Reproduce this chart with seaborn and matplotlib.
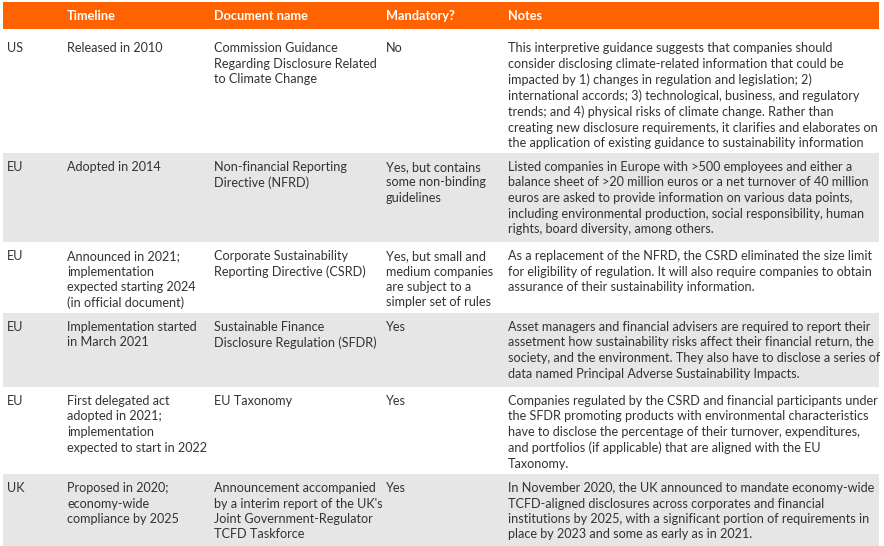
import matplotlib
matplotlib.use("Agg")
import matplotlib.pyplot as plt
import seaborn as sns

# ---- data ----
headers = ["", "Timeline", "Document name", "Mandatory?", "Notes"]
countries = ["US", "EU", "EU", "EU", "EU", "UK"]
timelines = [
    "Released in 2010",
    "Adopted in 2014",
    "Announced in 2021;\nimplementation\nexpected starting 2024\n(in official document)",
    "Implementation started\nin March 2021",
    "First delegated act\nadopted in 2021;\nimplementation\nexpected to start in 2022",
    "Proposed in 2020;\neconomy-wide\ncompliance by 2025",
]
documents = [
    "Commission Guidance\nRegarding Disclosure Related\nto Climate Change",
    "Non-financial Reporting\nDirective (NFRD)",
    "Corporate Sustainability\nReporting Directive (CSRD)",
    "Sustainable Finance\nDisclosure Regulation (SFDR)",
    "EU Taxonomy",
    "Announcement accompanied\nby a interim report of the UK's\nJoint Government-Regulator\nTCFD Taskforce",
]
mandatory = [
    "No",
    "Yes, but contains\nsome non-binding\nguidelines",
    "Yes, but small and\nmedium companies\nare subject to a\nsimpler set of rules",
    "Yes",
    "Yes",
    "Yes",
]
notes = [
    "This interpretive guidance suggests that companies should\n"
    "consider disclosing climate-related information that could be\n"
    "impacted by 1) changes in regulation and legislation; 2)\n"
    "international accords; 3) technological, business, and regulatory\n"
    "trends; and 4) physical risks of climate change. Rather than\n"
    "creating new disclosure requirements, it clarifies and elaborates on\n"
    "the application of existing guidance to sustainability information",
    "Listed companies in Europe with >500 employees and either a\n"
    "balance sheet of >20 million euros or a net turnover of 40 million\n"
    "euros are asked to provide information on various data points,\n"
    "including environmental production, social responsibility, human\n"
    "rights, board diversity, among others.",
    "As a replacement of the NFRD, the CSRD eliminated the size limit\n"
    "for eligibility of regulation. It will also require companies to obtain\n"
    "assurance of their sustainability information.",
    "Asset managers and financial advisers are required to report their\n"
    "assetment how sustainability risks affect their financial return, the\n"
    "society, and the environment. They also have to disclose a series of\n"
    "data named Principal Adverse Sustainability Impacts.",
    "Companies regulated by the CSRD and financial participants under\n"
    "the SFDR promoting products with environmental characteristics\n"
    "have to disclose the percentage of their turnover, expenditures,\n"
    "and portfolios (if applicable) that are aligned with the EU\n"
    "Taxonomy.",
    "In November 2020, the UK announced to mandate economy-wide\n"
    "TCFD-aligned disclosures across corporates and financial\n"
    "institutions by 2025, with a significant portion of requirements in\n"
    "place by 2023 and some as early as in 2021.",
]

# ---- layout ----
W, H = 884, 546
col_x = [7, 67, 214, 386, 508]
header_top, header_bot = 2, 29
row_tops = [29, 153, 242, 313, 387, 474]
row_bot = 546
text_off = [13, 8, 8, 8, 8, 8]
left, right = 3, 879

ORANGE = "#FF6200"
GREY = "#E6E6E6"
TEXT = "#333333"

sns.set_theme(style="white")
plt.rcParams["font.family"] = ["Lato", "DejaVu Sans"]

fig = plt.figure(figsize=(W / 100, H / 100), dpi=100)
ax = fig.add_axes([0, 0, 1, 1])
ax.set_xlim(0, W)
ax.set_ylim(H, 0)
ax.axis("off")

ax.fill_between([left, right], header_top, header_bot, color=ORANGE, lw=0)
for i, h in enumerate(headers):
    ax.text(col_x[i], (header_top + header_bot) / 2 + 0.5, h, color="white",
            fontsize=9.2, fontweight="bold", va="center", ha="left")

bottoms = row_tops[1:] + [row_bot]
rows = list(zip(countries, timelines, documents, mandatory, notes))
for r, cells in enumerate(rows):
    if r % 2 == 1:
        ax.fill_between([left, right], row_tops[r], bottoms[r], color=GREY, lw=0)
    for c, txt in enumerate(cells):
        ax.text(col_x[c], row_tops[r] + text_off[r], txt, color=TEXT,
                fontsize=9.05, va="top", ha="left", linespacing=1.35)

fig.savefig("out.png", dpi=100)
